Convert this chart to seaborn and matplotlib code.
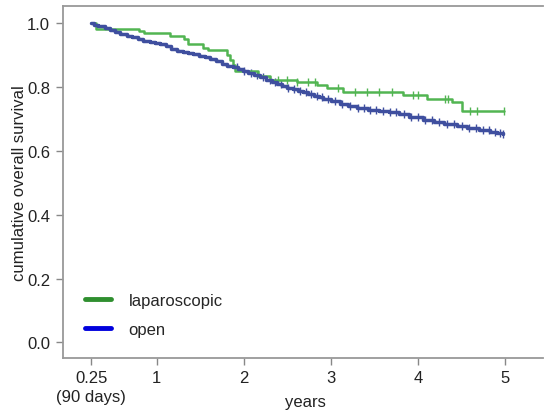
import numpy as np
import pandas as pd
import seaborn as sns
import matplotlib.pyplot as plt
from matplotlib.lines import Line2D

# Kaplan-Meier steps (years, cumulative survival)
lap_time = [0.25, 0.30, 0.80, 0.85, 1.15, 1.31, 1.36, 1.53, 1.59, 1.81, 1.84, 1.87,
            1.90, 2.16, 2.30, 2.61, 2.84, 2.95, 3.14, 3.82, 4.10, 4.39, 4.50, 4.98]
lap_surv = [1.000, 0.981, 0.976, 0.969, 0.958, 0.950, 0.933, 0.922, 0.915, 0.900, 0.885, 0.870,
            0.851, 0.834, 0.823, 0.814, 0.806, 0.796, 0.785, 0.775, 0.762, 0.752, 0.726, 0.726]
lap_cens = [2.39, 2.49, 2.61, 2.73, 2.82, 3.08, 3.27, 3.41, 3.55, 3.70, 3.94, 4.00,
            4.31, 4.34, 4.59, 4.68, 4.98]

open_time = [0.25, 0.28, 0.32, 0.40, 0.46, 0.52, 0.58, 0.66, 0.72, 0.78, 0.84, 0.92,
             0.98, 1.04, 1.10, 1.16, 1.23, 1.30, 1.36, 1.42, 1.48, 1.55, 1.61, 1.68,
             1.75, 1.81, 1.87, 1.93, 1.99, 2.05, 2.12, 2.18, 2.25, 2.32, 2.38, 2.44,
             2.50, 2.56, 2.62, 2.68, 2.73, 2.80, 2.86, 2.91, 3.00, 3.10, 3.20, 3.30,
             3.42, 3.55, 3.67, 3.78, 3.90, 4.05, 4.18, 4.30, 4.44, 4.56, 4.70, 4.82,
             4.90, 4.97]
open_surv = [1.000, 0.995, 0.990, 0.984, 0.978, 0.973, 0.967, 0.960, 0.955, 0.950, 0.944, 0.940,
             0.937, 0.933, 0.927, 0.920, 0.913, 0.909, 0.906, 0.902, 0.897, 0.892, 0.887, 0.880,
             0.873, 0.866, 0.861, 0.855, 0.850, 0.843, 0.836, 0.830, 0.823, 0.816, 0.809, 0.804,
             0.798, 0.793, 0.788, 0.783, 0.778, 0.772, 0.767, 0.762, 0.755, 0.747, 0.740, 0.733,
             0.729, 0.725, 0.721, 0.714, 0.706, 0.696, 0.690, 0.684, 0.678, 0.672, 0.666, 0.660,
             0.656, 0.652]
open_cens = [1.92, 2.00, 2.08, 2.15, 2.22, 2.30, 2.36, 2.43, 2.51, 2.58, 2.64, 2.71,
             2.77, 2.84, 2.90, 2.97, 3.05, 3.13, 3.22, 3.31, 3.38, 3.45, 3.52, 3.60,
             3.68, 3.75, 3.84, 3.92, 4.00, 4.08, 4.16, 4.24, 4.33, 4.41, 4.50, 4.58,
             4.66, 4.74, 4.81, 4.88, 4.94, 4.97]

x_ticks = [0.25, 1, 2, 3, 4, 5]
x_ticklabels = ['0.25\n(90 days)', '1', '2', '3', '4', '5']
y_ticks = [0.0, 0.2, 0.4, 0.6, 0.8, 1.0]

groups = ['laparoscopic', 'open']
line_colors = ['#52b552', '#3f4f9f']
legend_colors = ['#2f8f2f', '#0000dd']


def surv_at(times, survs, t):
    idx = np.searchsorted(times, t, side='right') - 1
    return np.array(survs)[idx]


sns.set_style('white')
plt.rcParams['font.family'] = ['Liberation Sans', 'DejaVu Sans']

fig = plt.figure(figsize=(5.45, 4.14), dpi=100)
ax = fig.add_axes([0.115, 0.133, 0.881, 0.850])

series = [(lap_time, lap_surv, lap_cens, 1.8), (open_time, open_surv, open_cens, 2.5)]
for (t, s, c, lw), col in zip(series, line_colors):
    df = pd.DataFrame({'t': t, 's': s})
    sns.lineplot(data=df, x='t', y='s', drawstyle='steps-post', color=col,
                 linewidth=lw, ax=ax, legend=False)
    cdf = pd.DataFrame({'t': c, 's': surv_at(t, s, c)})
    sns.scatterplot(data=cdf, x='t', y='s', marker='|', s=40, color=col,
                    linewidth=1.0, ax=ax, legend=False)

ax.set_xlim(-0.08, 5.43)
ax.set_ylim(-0.0485, 1.053)
ax.set_xticks(x_ticks)
ax.set_xticklabels(x_ticklabels, linespacing=1.3)
ax.set_yticks(y_ticks)
ax.set_yticklabels([f'{v:.1f}' for v in y_ticks])

for side in ['left', 'bottom', 'top']:
    ax.spines[side].set_color('#999999')
    ax.spines[side].set_linewidth(1.3)
ax.spines['right'].set_visible(False)
ax.tick_params(axis='both', direction='out', length=5, width=1, color='#888888',
               labelsize=12, labelcolor='#222222', pad=4, left=True, bottom=True)

ax.set_ylabel('cumulative overall survival', fontsize=12, color='#222222', labelpad=0)
ax.set_xlabel('years', fontsize=12, color='#222222')
ax.xaxis.set_label_coords(0.506, -0.1355)
ax.xaxis.label.set_va('baseline')

handles = [Line2D([0], [0], color=c, linewidth=3.5) for c in legend_colors]
ax.legend(handles, groups, loc='center left', bbox_to_anchor=(0.046, 0.122),
          frameon=False, fontsize=12, handlelength=1.55, handletextpad=1.08,
          labelspacing=0.85, borderpad=0, borderaxespad=0)

fig.savefig('out.png', dpi=100)
